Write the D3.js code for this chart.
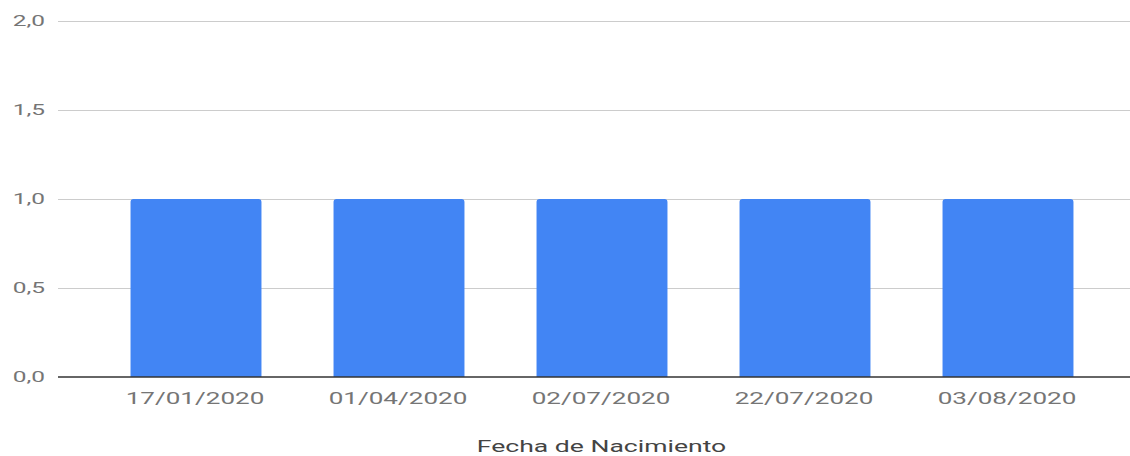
<!DOCTYPE html>
<html>
<head>
<meta charset="utf-8">
<script src="https://cdnjs.cloudflare.com/ajax/libs/d3/7.8.5/d3.min.js"></script>
<style>
  body { margin: 0; background: #fff; }
  text { font-family: Roboto, Arial, sans-serif; }
</style>
</head>
<body>
<div id="chart"></div>
<script>
// chart data
let fechas = ["17/01/2020", "01/04/2020", "02/07/2020", "22/07/2020", "03/08/2020"];
let conteos = [1, 1, 1, 1, 1];
let yTicks = [0, 0.5, 1, 1.5, 2];

let svgWidth = 1130;
let svgHeight = 456;

// the reference text looks stretched sideways, so scale text in x only
let stretch = 1.63;

let svg = d3.select("#chart")
  .append("svg")
  .attr("width", svgWidth)
  .attr("height", svgHeight);

// scales
let x = d3.scaleBand()
  .domain(fechas)
  .range([94.5, 1109.5])
  .paddingInner(0.355)
  .paddingOuter(0.1775);

let y = d3.scaleLinear()
  .domain([0, 2])
  .range([377, 21]);

let fmt = d => d3.format(".1f")(d).replace(".", ",");

// gridlines
svg.append("g")
  .selectAll("line")
  .data(yTicks.filter(d => d > 0))
  .enter()
  .append("line")
  .attr("x1", 58)
  .attr("x2", svgWidth)
  .attr("y1", d => Math.round(y(d)) + 0.5)
  .attr("y2", d => Math.round(y(d)) + 0.5)
  .attr("stroke", "#cccccc")
  .attr("stroke-width", 1);

// y tick labels
svg.append("g")
  .selectAll("text")
  .data(yTicks)
  .enter()
  .append("text")
  .attr("transform", d => `translate(45, ${y(d)}) scale(${stretch}, 1)`)
  .attr("dy", "0.35em")
  .style("text-anchor", "end")
  .style("font-size", "15px")
  .style("fill", "#757575")
  .text(fmt);

// bars with slightly rounded tops
let r = 3;
svg.append("g")
  .selectAll("path")
  .data(conteos)
  .enter()
  .append("path")
  .attr("fill", "#4285f4")
  .attr("d", (d, i) => {
    let x0 = x(fechas[i]);
    let w = x.bandwidth();
    let yt = y(d);
    let yb = y(0);
    return `M${x0},${yb} V${yt + r} Q${x0},${yt} ${x0 + r},${yt} H${x0 + w - r} Q${x0 + w},${yt} ${x0 + w},${yt + r} V${yb} Z`;
  });

// baseline
svg.append("line")
  .attr("x1", 58)
  .attr("x2", svgWidth)
  .attr("y1", y(0))
  .attr("y2", y(0))
  .attr("stroke", "#333333")
  .attr("stroke-width", 1.5);

// x tick labels
svg.append("g")
  .selectAll("text")
  .data(fechas)
  .enter()
  .append("text")
  .attr("transform", d => `translate(${x(d) + x.bandwidth() / 2 - 1}, 404) scale(${stretch}, 1)`)
  .style("text-anchor", "middle")
  .style("font-size", "16px")
  .style("fill", "#757575")
  .text(d => d);

// axis title
svg.append("text")
  .attr("transform", `translate(${(58 + 1130) / 2 + 7.5}, 452) scale(${stretch}, 1)`)
  .style("text-anchor", "middle")
  .style("font-size", "16.3px")
  .style("fill", "#444444")
  .text("Fecha de Nacimiento");
</script>
</body>
</html>
